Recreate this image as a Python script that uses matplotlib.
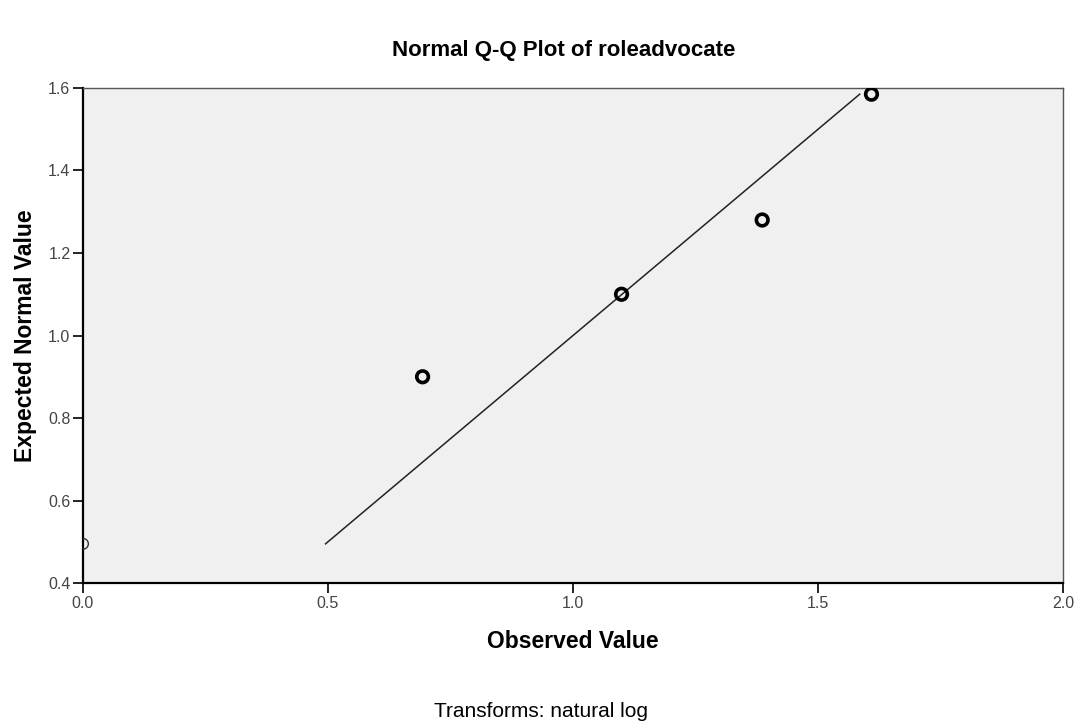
import numpy as np
import matplotlib.pyplot as plt

# natural log of the roleadvocate scores and their expected normal values
observed = [0.0, 0.693, 1.099, 1.386, 1.609]
expected = [0.495, 0.90, 1.10, 1.28, 1.585]
x_ticks = [0.0, 0.5, 1.0, 1.5, 2.0]
y_ticks = [0.4, 0.6, 0.8, 1.0, 1.2, 1.4, 1.6]

plt.rcParams['font.family'] = ['Liberation Sans', 'DejaVu Sans']

fig = plt.figure(figsize=(10.76, 7.23), dpi=100)
ax = fig.add_axes([0.0771, 0.1936, 0.9109, 0.6847])
ax.set_facecolor('#f0f0f0')

# reference line over the range of expected values
ref = np.array([min(expected), max(expected)])
ax.plot(ref, ref, color='#222222', lw=1.1, zorder=2)

ax.scatter(observed[:1], expected[:1], s=60, facecolors='none',
           edgecolors='#333333', linewidths=1.0, zorder=3, clip_on=True)
ax.scatter(observed[1:], expected[1:], s=70, facecolors='none',
           edgecolors='black', linewidths=2.6, zorder=3)

ax.set_xlim(0.0, 2.0)
ax.set_ylim(0.4, 1.6)
ax.set_xticks(x_ticks)
ax.set_yticks(y_ticks)
ax.set_xticklabels(['%.1f' % v for v in x_ticks])
ax.set_yticklabels(['%.1f' % v for v in y_ticks])
ax.tick_params(direction='out', length=7, width=1.2, labelsize=11.5,
               labelcolor='#444444', pad=2)

for side in ['left', 'bottom']:
    ax.spines[side].set_linewidth(1.6)
    ax.spines[side].set_color('black')
for side in ['top', 'right']:
    ax.spines[side].set_linewidth(1.0)
    ax.spines[side].set_color('#555555')

ax.set_xlabel('Observed Value', fontsize=16.5, fontweight='bold', labelpad=14)
ax.set_ylabel('Expected Normal Value', fontsize=16.5, fontweight='bold', labelpad=8)
fig.text(0.524, 0.93, 'Normal Q-Q Plot of roleadvocate', ha='center', va='center',
         fontsize=16, fontweight='bold')
fig.text(0.503, 0.016, 'Transforms: natural log', ha='center', va='center',
         fontsize=15)

fig.savefig('out.png', dpi=100)
